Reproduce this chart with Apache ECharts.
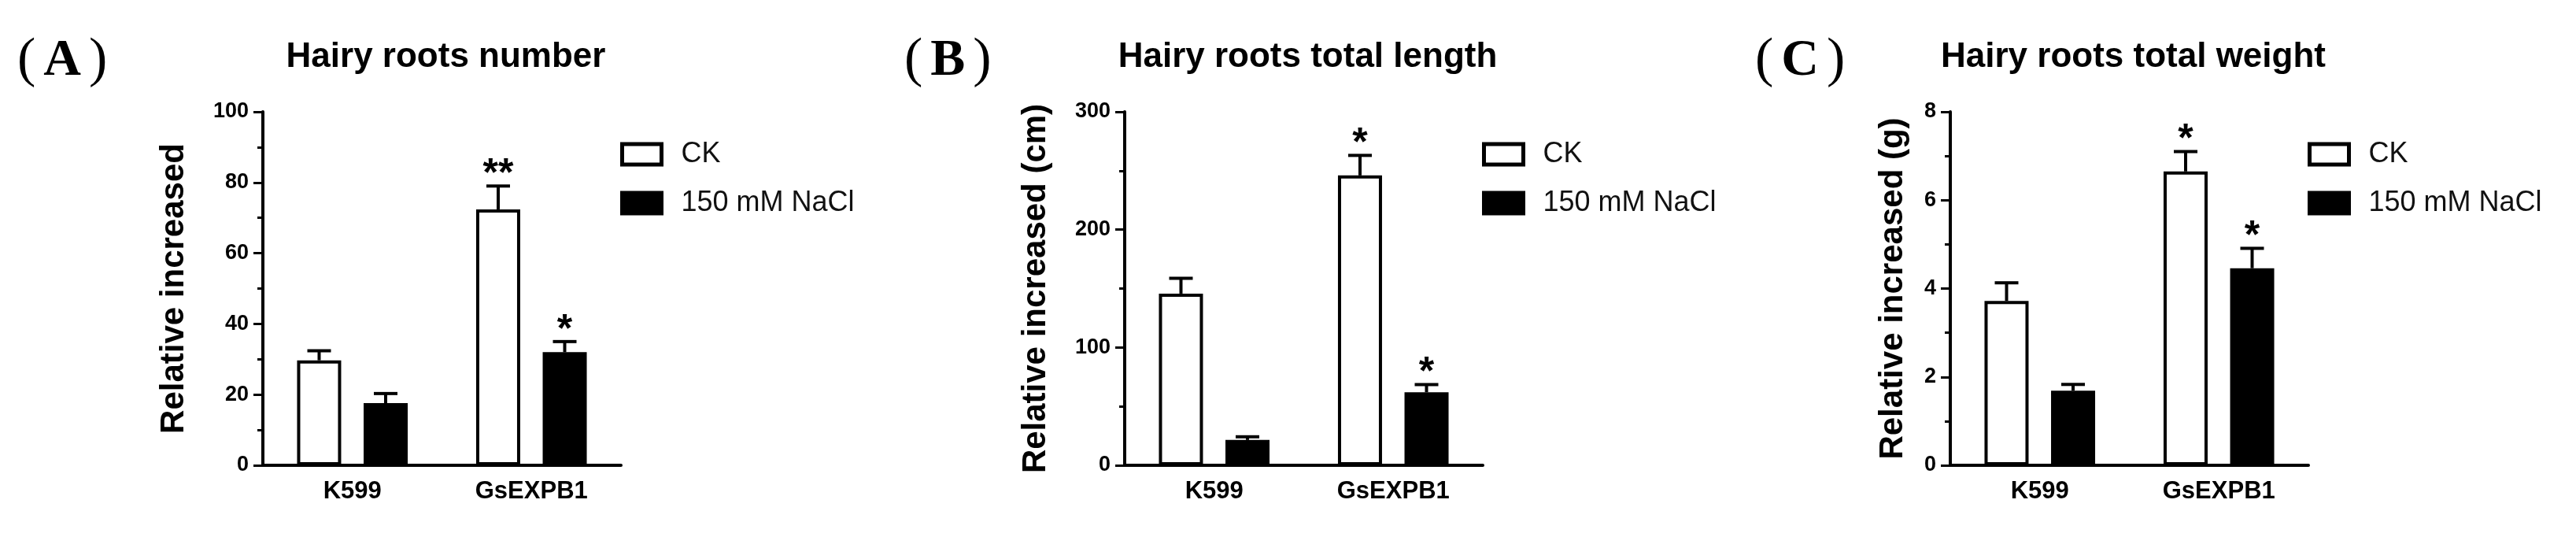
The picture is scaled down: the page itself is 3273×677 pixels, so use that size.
<!DOCTYPE html>
<html>
<head>
<meta charset="utf-8">
<script src="https://cdn.jsdelivr.net/npm/echarts/dist/echarts.min.js"></script>
<style>
html, body { margin: 0; padding: 0; background: #fff; }
#main { width: 3273px; height: 677px; }
</style>
</head>
<body>
<div id="main"></div>
<script>
// categories on every x axis
var categories = ['K599', 'GsEXPB1'];

// (A) hairy roots number
var numberCK = [29.7, 72.4];
var numberCKErr = [2.7, 6.6];
var numberNaCl = [17.6, 32.0];
var numberNaClErr = [2.7, 3.0];
var numberCKStars = ['', '**'];
var numberNaClStars = ['', '*'];

// (B) hairy roots total length (cm)
var lengthCK = [145.7, 246];
var lengthCKErr = [13, 17];
var lengthNaCl = [21.5, 62];
var lengthNaClErr = [2.7, 6.5];
var lengthCKStars = ['', '*'];
var lengthNaClStars = ['', '*'];

// (C) hairy roots total weight (g)
var weightCK = [3.72, 6.65];
var weightCKErr = [0.41, 0.45];
var weightNaCl = [1.69, 4.46];
var weightNaClErr = [0.14, 0.45];
var weightCKStars = ['', '*'];
var weightNaClStars = ['', '*'];

var BAR_W = 56;
var BAR_OFF = 42.25;   // half distance between the two bar centres
var CAP = 30;
var FONT = '"Liberation Sans", Arial, sans-serif';

var panels = [
  {tag: 'A', title: 'Hairy roots number', yName: 'Relative increased', left: 334, max: 100, interval: 20, nameGap: 92,
   ck: numberCK, ckErr: numberCKErr, nacl: numberNaCl, naclErr: numberNaClErr, ckStars: numberCKStars, naclStars: numberNaClStars, tagLeft: 17},
  {tag: 'B', title: 'Hairy roots total length', yName: 'Relative increased (cm)', left: 1429, max: 300, interval: 100, nameGap: 92,
   ck: lengthCK, ckErr: lengthCKErr, nacl: lengthNaCl, naclErr: lengthNaClErr, ckStars: lengthCKStars, naclStars: lengthNaClStars, tagLeft: 1144},
  {tag: 'C', title: 'Hairy roots total weight', yName: 'Relative increased (g)', left: 2478, max: 8, interval: 2, nameGap: 52,
   ck: weightCK, ckErr: weightCKErr, nacl: weightNaCl, naclErr: weightNaClErr, ckStars: weightCKStars, naclStars: weightNaClStars, tagLeft: 2225}
];
var GRID_W = 455;

var myChart = echarts.init(document.getElementById('main'));

var grids = [], xAxes = [], yAxes = [], titles = [], legends = [], series = [];

function errorSeries(idx, vals, errs, side, stars) {
  return {
    type: 'custom',
    xAxisIndex: idx,
    yAxisIndex: idx,
    z: 5,
    silent: true,
    data: vals.map(function (v, i) { return [i, v, errs[i]]; }),
    encode: {x: 0, y: 1},
    renderItem: function (params, api) {
      var i = api.value(0), v = api.value(1), e = api.value(2);
      var base = api.coord([i, v]);
      var top = api.coord([i, v + e]);
      var x = base[0] + side * BAR_OFF;
      var children = [
        {type: 'line', shape: {x1: x, y1: base[1], x2: x, y2: top[1]}, style: {stroke: '#000', lineWidth: 4}},
        {type: 'line', shape: {x1: x - CAP / 2, y1: top[1], x2: x + CAP / 2, y2: top[1]}, style: {stroke: '#000', lineWidth: 4}}
      ];
      var s = stars[params.dataIndex];
      if (s) {
        children.push({type: 'text', x: x, y: top[1] - 14,
          style: {text: s, fill: '#000', font: 'bold 50px ' + FONT, align: 'center', verticalAlign: 'middle'}});
      }
      return {type: 'group', children: children};
    }
  };
}

panels.forEach(function (p, idx) {
  grids.push({left: p.left, width: GRID_W, top: 142, bottom: 86, containLabel: false});

  xAxes.push({
    type: 'category', gridIndex: idx, data: categories,
    axisLine: {lineStyle: {color: '#000', width: 4}},
    axisTick: {alignWithLabel: true, length: 12, lineStyle: {color: '#000', width: 3}},
    axisLabel: {color: '#000', fontSize: 31, fontWeight: 'bold', fontFamily: FONT, margin: 18}
  });

  yAxes.push({
    type: 'value', gridIndex: idx, min: 0, max: p.max, interval: p.interval,
    name: p.yName, nameLocation: 'middle', nameGap: p.nameGap, nameRotate: 90,
    nameTextStyle: {color: '#000', fontSize: 42, fontWeight: 'bold', fontFamily: FONT},
    axisLine: {show: true, lineStyle: {color: '#000', width: 4}},
    axisTick: {show: true, length: 12, lineStyle: {color: '#000', width: 3}},
    minorTick: {show: true, splitNumber: 2, length: 7, lineStyle: {color: '#000', width: 3}},
    splitLine: {show: false},
    axisLabel: {color: '#000', fontSize: 27, fontWeight: 'bold', fontFamily: FONT, margin: 18}
  });

  titles.push({
    text: p.title, left: p.left + GRID_W / 2, top: 46, textAlign: 'center',
    textStyle: {color: '#000', fontSize: 44, fontWeight: 'bold', fontFamily: FONT}
  });
  titles.push({
    text: '{p|(}{a|' + p.tag + '}{p|)}', left: p.tagLeft, top: 38,
    textStyle: {
      rich: {
        p: {fontFamily: '"Liberation Serif", serif', fontSize: 70, fontWeight: 'normal', color: '#000'},
        a: {fontFamily: '"Liberation Serif", serif', fontSize: 66, fontWeight: 'bold', color: '#000', padding: [0, 10, 0, 10]}
      }
    }
  });

  legends.push({
    orient: 'vertical', left: p.left + GRID_W - 6, top: 173,
    itemWidth: 50, itemHeight: 26, itemGap: 26, icon: 'rect',
    selectedMode: false,
    textStyle: {color: '#111', fontSize: 36, fontFamily: FONT, padding: [0, 0, 0, 20]},
    data: [
      {name: 'CK', itemStyle: {color: '#fff', borderColor: '#000', borderWidth: 5}},
      {name: '150 mM NaCl', itemStyle: {color: '#000', borderColor: '#000', borderWidth: 5}}
    ]
  });

  series.push({
    name: 'CK', type: 'bar', xAxisIndex: idx, yAxisIndex: idx,
    barWidth: BAR_W, barGap: '51%', data: p.ck,
    itemStyle: {color: '#fff', borderColor: '#000', borderWidth: 4}
  });
  series.push({
    name: '150 mM NaCl', type: 'bar', xAxisIndex: idx, yAxisIndex: idx,
    barWidth: BAR_W, barGap: '51%', data: p.nacl,
    itemStyle: {color: '#000', borderColor: '#000', borderWidth: 4}
  });
  series.push(errorSeries(idx, p.ck, p.ckErr, -1, p.ckStars));
  series.push(errorSeries(idx, p.nacl, p.naclErr, 1, p.naclStars));
});

var option = {
  backgroundColor: '#fff',
  animation: false,
  title: titles,
  legend: legends,
  grid: grids,
  xAxis: xAxes,
  yAxis: yAxes,
  series: series
};

myChart.setOption(option);
</script>
</body>
</html>
